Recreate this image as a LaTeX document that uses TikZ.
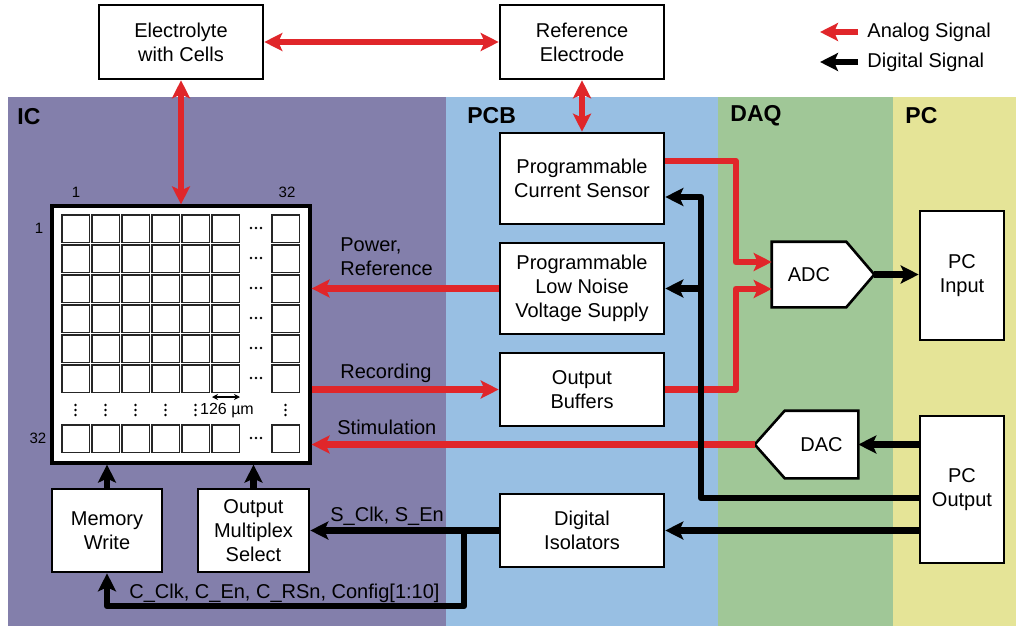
\documentclass[tikz,border=0pt]{standalone}
\usepackage{fontspec}
\setmainfont{Liberation Sans}
\usetikzlibrary{positioning, arrows.meta}

\definecolor{icband}{RGB}{131,127,171}
\definecolor{pcbband}{RGB}{152,191,227}
\definecolor{daqband}{RGB}{160,199,151}
\definecolor{pcband}{RGB}{229,228,151}
\definecolor{sigred}{RGB}{224,38,42}

\begin{document}
\begin{tikzpicture}[x=0.5pt, y=-0.5pt, on grid, >={Stealth[length=9pt, width=9pt, inset=2pt]},
    font=\fontsize{10}{12}\selectfont]
      \tikzstyle{block}=[draw, line width=1.3pt, fill=white, align=center, inner sep=2pt]
      \tikzstyle{analog}=[draw=sigred, line width=3.2pt, line join=round, ->]
      \tikzstyle{digital}=[draw=black, line width=3.2pt, line join=round, ->]
      \tikzstyle{tag}=[anchor=west, inner sep=0pt, align=left]
      \tikzstyle{band}=[font=\fontsize{11.5}{13}\bfseries\selectfont, anchor=west, inner sep=0pt]
      \tikzstyle{idx}=[font=\fontsize{7.5}{9}\selectfont, inner sep=0pt]
      \tikzstyle{cell}=[draw=black!85, line width=0.6pt]

      % Bands
      \useasboundingbox (0,0) rectangle (1016,626);
      \fill[white] (0,0) rectangle (1016,626);
      \fill[icband] (8,97) rectangle (446,626);
      \fill[pcbband] (446,97) rectangle (718,626);
      \fill[daqband] (718,97) rectangle (893,626);
      \fill[pcband] (893,97) rectangle (1016,626);
      \node[band] (ic) at (17,117) {IC};
      \node[band] (pcb) at (467,116) {PCB};
      \node[band] (daq) at (730,116) {DAQ};
      \node[band] (pc) at (905,116) {PC};

      % Nodes
      \node[block, minimum width=82pt, minimum height=37pt] (elec) at (181,42) {Electrolyte\\with Cells};
      \node[block, minimum width=82pt, minimum height=37pt] (refel) [right=200.5pt of elec] {Reference\\Electrode};
      \node[block, minimum width=82pt, minimum height=45.5pt] (sensor) [below=68.25pt of refel] {Programmable\\Current Sensor};
      \node[block, minimum width=82pt, minimum height=45.5pt] (supply) [below=55pt of sensor] {Programmable\\Low Noise\\Voltage Supply};
      \node[block, minimum width=82pt, minimum height=36.5pt] (buffers) [below=50.5pt of supply] {Output\\Buffers};
      \node[block, minimum width=82pt, minimum height=36.5pt] (isol) [below=70.5pt of buffers] {Digital\\Isolators};
      \node[block, line width=1.6pt, minimum width=129pt, minimum height=128.5pt] (array) [below=146.25pt of elec] {};
      \node[block, minimum width=55pt, minimum height=41.5pt] (memw) at (107,530.5) {Memory\\Write};
      \node[block, minimum width=55.5pt, minimum height=41.5pt] (mux) [right=73.25pt of memw] {Output\\Multiplex\\Select};
      \node[block, draw=none, minimum width=36pt, minimum height=31.5pt] (adc) at (809,274.5) {ADC};
      \node[block, draw=none, minimum width=35.5pt, minimum height=32.5pt] (dac) at (821.5,444.5) {DAC};
      \node[block, minimum width=42pt, minimum height=64.5pt] (pcin) at (962,275.5) {PC\\Input};
      \node[block, minimum width=42pt, minimum height=73.5pt] (pcout) at (962,489.5) {PC\\Output};

      % ADC / DAC pointers
      \coordinate (adctip) at ([xshift=14pt]adc.east);
      \coordinate (dactip) at ([xshift=-15pt]dac.west);
      \fill[white] ([xshift=-1pt]adc.north east) -- (adctip) -- ([xshift=-1pt]adc.south east) -- cycle;
      \draw[line width=1.3pt] (adc.north west) -- (adc.north east) -- (adctip) -- (adc.south east) -- (adc.south west) -- cycle;
      \fill[white] ([xshift=1pt]dac.north west) -- (dactip) -- ([xshift=1pt]dac.south west) -- cycle;
      \draw[line width=1.3pt] (dac.north east) -- (dac.north west) -- (dactip) -- (dac.south west) -- (dac.south east) -- cycle;

      % Electrode array
      \foreach \cx in {62,92,122,152,182,212,272}
        \foreach \cy in {215,245,275,305,335,365,425}
          \draw[cell] (\cx,\cy) rectangle ++(27.5,27.5);
      \foreach \cy in {215,245,275,305,335,365,425}
        \foreach \dx in {-5,0,5}
          \fill (256+\dx,\cy+13) circle (1.3);
      \foreach \cx in {62,92,122,152,182,272}
        \foreach \dy in {-5,0,5}
          \fill (\cx+13.5,410+\dy) circle (1.3);
      \node[font=\fontsize{8}{9}\selectfont, inner sep=0pt] (pitch) at (227,411) {126 µm};
      \draw[{Stealth[length=3pt, width=3pt]}-{Stealth[length=3pt, width=3pt]}, line width=0.6pt] (212,397) -- (240,397);
      \node[idx] (col1) at (76,192) {1};
      \node[idx] (col32) at (287,192) {32};
      \node[idx] (row1) at (39,228) {1};
      \node[idx] (row32) at (38,438) {32};

      % Edges
      \coordinate (adcin1) at ([yshift=6.25pt]adc.west);
      \coordinate (adcin2) at ([yshift=-7.25pt]adc.west);
      \draw[analog, <->] (elec) -- (refel);
      \draw[analog, <->] (elec) -- (array);
      \draw[analog, <->] (refel) -- (sensor);
      \draw[analog] ([yshift=8.75pt]sensor.east) -| ([xshift=-18pt]adcin1) -- (adcin1);
      \draw[analog] (buffers.east) -| ([xshift=-18pt]adcin2) -- (adcin2);
      \draw[analog] (supply.west) -- (array.east |- supply.west);
      \draw[analog] (array.east |- buffers.west) -- (buffers.west);
      \draw[analog] (dactip) -- (array.east |- dactip);

      \coordinate (bus) at (701,498);
      \coordinate (tap) at (464,606);
      \draw[digital] (adctip) -- (pcin.west |- adctip);
      \draw[digital] (pcout.west |- dac.east) -- (dac.east);
      \draw[digital] (pcout.west |- bus) -- (bus) |- ([yshift=-9.25pt]sensor.east);
      \draw[digital] (bus |- supply.east) -- (supply.east);
      \draw[digital] (pcout.west |- isol.east) -- (isol.east);
      \draw[digital] (isol.west) -- (mux.east);
      \draw[digital] (tap |- mux.east) -- (tap) -| (memw.south);
      \draw[digital] (memw) -- (memw |- array.south);
      \draw[digital] (mux) -- (mux |- array.south);

      % Labels
      \node[tag] (pwr) at (340,257) {Power,\\Reference};
      \node[tag] (rec) at (340,373) {Recording};
      \node[tag] (stim) at (337,427) {Stimulation};
      \node[tag] (sbus) at (330,516) {S\_Clk, S\_En};
      \node[tag] (cbus) at (129,593) {C\_Clk, C\_En, C\_RSn, Config[1:10]};

      % Legend
      \node[tag] (lgana) at (867,32) {Analog Signal};
      \node[tag] (lgdig) at (867,62) {Digital Signal};
      \coordinate (lganaend) at (820,32);
      \coordinate (lgdigend) at (820,62);
      \draw[analog] ([xshift=-4.5pt]lgana.west) -- (lganaend);
      \draw[digital] ([xshift=-4.5pt]lgdig.west) -- (lgdigend);
    \end{tikzpicture}
\end{document}
